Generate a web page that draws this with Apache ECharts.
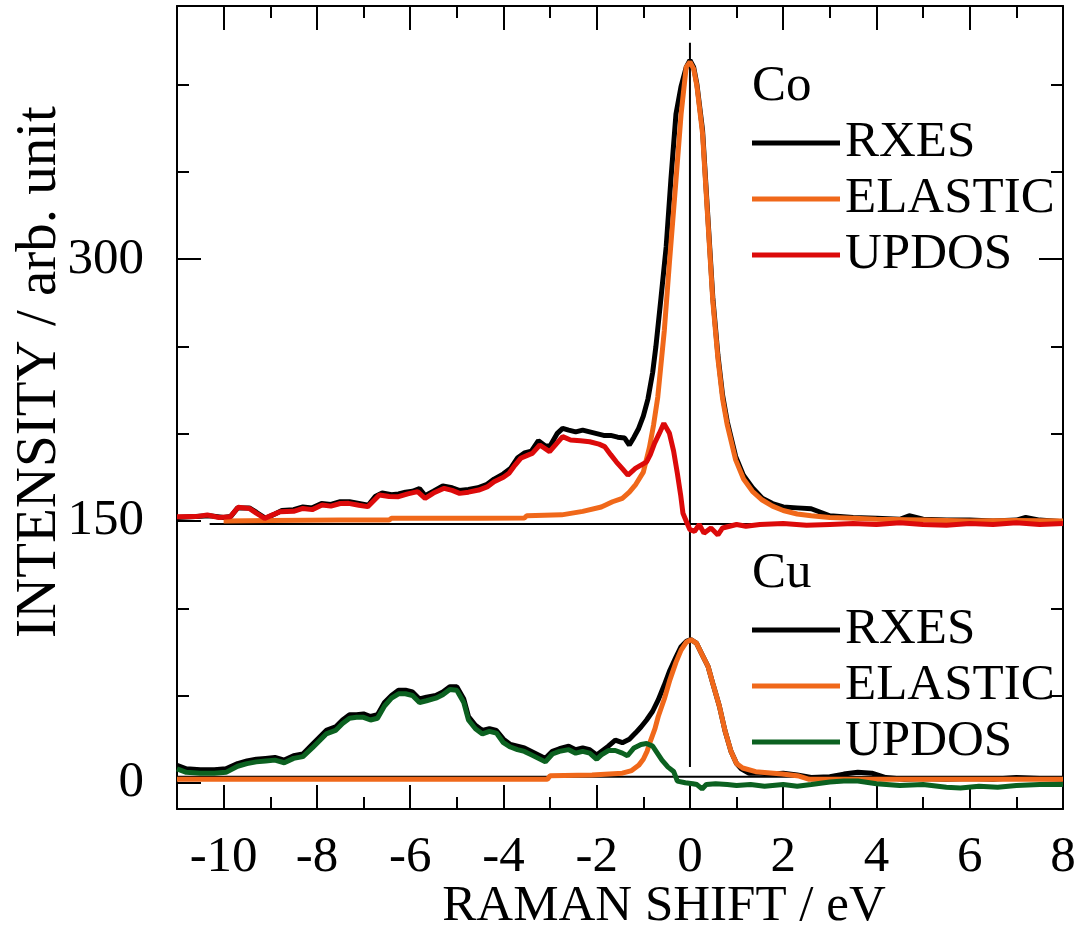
<!DOCTYPE html>
<html>
<head>
<meta charset="utf-8">
<script src="https://cdn.jsdelivr.net/npm/echarts@6/dist/echarts.min.js"></script>
<style>
html,body{margin:0;padding:0;background:#fff;}
#chart{width:1074px;height:928px;}
</style>
</head>
<body>
<div id="chart"></div>
<script>
// ---- tick values ----
var xMajorTicks = [-10, -8, -6, -4, -2, 0, 2, 4, 6, 8];
var xMinorTicks = [-9, -7, -5, -3, -1, 1, 3, 5, 7];
var yMajorTicks = [0, 150, 300];
var yMinorTicks = [50, 100, 200, 250, 350, 400];

// ---- Co spectra (Raman shift eV, intensity) ----
var coRxes = [[-11.0,152],[-10.6,152.5],[-10.3,153],[-10.0,152],[-9.85,152.5],[-9.7,157.5],[-9.45,157.5],[-9.3,155],[-9.1,151.5],[-8.9,154],[-8.75,156],[-8.5,156.5],[-8.3,158],[-8.1,157.5],[-7.9,160],[-7.7,159.5],[-7.5,161],[-7.3,161],[-7.1,160],[-6.9,159],[-6.75,164],[-6.6,166],[-6.4,165],[-6.25,165.5],[-6.1,166.5],[-5.95,167],[-5.8,168.5],[-5.68,164.5],[-5.5,167],[-5.3,170],[-5.1,169],[-4.95,167.5],[-4.75,168],[-4.55,169],[-4.35,171],[-4.2,174],[-4.0,177],[-3.85,180],[-3.7,186],[-3.55,189],[-3.4,190],[-3.25,196],[-3.1,193],[-3.0,193],[-2.85,200],[-2.73,203],[-2.6,202],[-2.45,201],[-2.3,202],[-2.15,201],[-2.0,200],[-1.85,199],[-1.7,199],[-1.55,198],[-1.4,197.5],[-1.3,193.5],[-1.2,198],[-1.1,203],[-1.0,210],[-0.9,220],[-0.8,235],[-0.73,250],[-0.62,278],[-0.51,307],[-0.41,345],[-0.3,383],[-0.19,399],[-0.08,410],[0.0,414],[0.08,410],[0.15,400],[0.27,374],[0.38,326],[0.49,278],[0.6,245],[0.7,222],[0.8,207],[0.98,187],[1.15,176],[1.34,169],[1.55,163],[1.77,160],[2.0,158],[2.3,157.5],[2.6,157],[2.8,155],[3.0,153],[3.5,152],[4.0,151.5],[4.5,151],[4.7,153],[5.0,151],[5.5,150.5],[6.0,150.5],[6.5,150],[7.0,150.5],[7.2,152],[7.5,150.5],[8.0,149.5]];
var coElastic = [[-10.0,150],[-9.0,150.3],[-7.5,150.5],[-6.45,150.5],[-6.4,151.5],[-4.5,151.5],[-3.55,151.7],[-3.5,153],[-2.75,153.5],[-2.3,155.5],[-1.9,158],[-1.66,161],[-1.45,163],[-1.3,166.5],[-1.16,171],[-1.0,178],[-0.87,192],[-0.78,205],[-0.69,221],[-0.55,259],[-0.44,298],[-0.3,345],[-0.19,383],[-0.08,410],[0.0,413],[0.08,409],[0.15,399],[0.27,372],[0.38,324],[0.49,276],[0.6,243],[0.7,220],[0.8,205],[0.98,185],[1.15,174],[1.34,167],[1.55,162],[1.77,158.5],[2.0,156],[2.3,154],[2.6,153],[3.0,152],[3.5,151.5],[4.0,151],[5.0,150.5],[6.0,150],[7.0,150.3],[8.0,150]];
var coUpdos = [[-11.0,152.4],[-10.6,152.5],[-10.35,153.4],[-10.1,152],[-9.86,152.4],[-9.69,157.8],[-9.45,157.2],[-9.3,154.5],[-9.12,151.5],[-8.95,153.5],[-8.79,155.3],[-8.5,155.5],[-8.3,157.2],[-8.1,156.5],[-7.89,159.1],[-7.7,158.5],[-7.5,160],[-7.32,160.1],[-7.1,159],[-6.91,158.2],[-6.75,162.5],[-6.66,164.9],[-6.45,164],[-6.25,163.9],[-6.05,165.5],[-5.84,166.8],[-5.68,163],[-5.5,166],[-5.27,168.7],[-5.1,167.5],[-4.94,165.8],[-4.75,166.5],[-4.53,167.7],[-4.35,169.5],[-4.2,172.5],[-4.0,175],[-3.88,177.3],[-3.75,182],[-3.63,185.9],[-3.45,188],[-3.38,188.7],[-3.22,193.5],[-3.01,189.7],[-2.87,194],[-2.73,198.3],[-2.56,196.4],[-2.35,196],[-2.15,195.4],[-1.95,194],[-1.83,192.6],[-1.7,188],[-1.58,183.9],[-1.45,180],[-1.33,176.3],[-1.17,180.1],[-0.93,183.9],[-0.85,188],[-0.76,194.5],[-0.66,200],[-0.56,205.9],[-0.44,200.2],[-0.35,190],[-0.27,177.3],[-0.2,165],[-0.15,154.4],[-0.05,148],[0.0,145],[0.1,144],[0.2,148],[0.3,143],[0.45,146],[0.6,142],[0.7,146],[0.85,147],[1.0,148],[1.2,147],[1.5,148],[2.0,148.5],[2.5,147.5],[3.0,148],[3.5,148.5],[4.0,148],[4.5,149],[5.0,148],[5.5,147.5],[6.0,148.5],[6.5,148],[7.0,149],[7.5,148],[8.0,148.5]];

// ---- Cu spectra ----
var cuRxes = [[-11.0,10],[-10.8,8],[-10.5,7.5],[-10.2,7.5],[-9.95,8],[-9.7,11],[-9.5,12.5],[-9.3,13.5],[-9.1,14],[-8.9,14.5],[-8.7,13],[-8.5,15.5],[-8.3,16.5],[-8.1,22],[-7.95,26],[-7.8,30],[-7.6,32],[-7.45,36],[-7.3,39],[-7.15,39],[-7.0,39.5],[-6.85,38],[-6.7,39],[-6.55,46],[-6.4,50],[-6.25,53],[-6.1,53],[-5.95,52],[-5.8,48],[-5.65,49],[-5.45,50],[-5.3,52],[-5.15,55],[-5.0,55],[-4.85,48],[-4.75,38],[-4.6,33],[-4.45,30],[-4.3,31],[-4.15,30],[-4.0,25],[-3.85,22],[-3.7,21],[-3.55,20],[-3.4,18],[-3.25,16],[-3.1,14],[-2.95,18],[-2.8,19.5],[-2.6,21],[-2.45,19],[-2.3,20],[-2.15,19],[-2.0,16],[-1.9,18],[-1.75,21],[-1.6,24.5],[-1.45,23],[-1.3,25],[-1.17,28.5],[-1.05,32],[-0.93,36],[-0.8,41],[-0.68,47.5],[-0.55,56],[-0.43,64.5],[-0.3,72],[-0.19,78],[-0.08,81],[0.02,82],[0.14,80],[0.25,74],[0.39,66.5],[0.5,56],[0.63,44],[0.75,30],[0.88,18],[1.0,11],[1.1,8],[1.27,5.5],[1.5,5.5],[1.8,5],[2.0,5.5],[2.3,4.5],[2.6,3],[3.0,3.5],[3.3,5],[3.6,6],[3.9,5.5],[4.2,3],[4.6,2],[5.0,2.5],[5.5,2],[6.0,2.5],[6.5,2],[7.0,3],[7.5,2.5],[8.0,2]];
var cuElastic = [[-11.0,2],[-9.0,2],[-7.0,2],[-5.0,2],[-3.06,2],[-3.0,4],[-2.1,4.5],[-1.45,5.5],[-1.25,7],[-1.1,10],[-1.0,13.5],[-0.92,18],[-0.84,24.5],[-0.75,31],[-0.68,38],[-0.55,48],[-0.43,59],[-0.3,69],[-0.19,76],[-0.08,80.5],[0.02,82],[0.14,80],[0.25,74],[0.39,66.5],[0.5,56],[0.63,44],[0.75,30],[0.88,18],[1.0,11],[1.13,8.5],[1.41,6.4],[1.98,5],[2.34,3.9],[2.56,2],[3.5,2],[5.0,2],[6.5,2],[8.0,2]];
var cuUpdos = [[-11.0,8],[-10.8,6],[-10.5,5.5],[-10.2,5.5],[-9.95,6],[-9.7,9.5],[-9.5,11],[-9.3,12],[-9.1,12.5],[-8.9,13],[-8.7,11.5],[-8.5,14],[-8.3,15],[-8.1,20],[-7.95,24],[-7.8,28],[-7.6,30],[-7.45,34],[-7.3,37],[-7.15,37.5],[-7.0,37.5],[-6.85,36],[-6.7,37],[-6.55,44],[-6.4,48.5],[-6.25,51],[-6.1,51],[-5.95,50],[-5.8,46],[-5.65,47],[-5.45,48.5],[-5.3,50.5],[-5.15,53.5],[-5.0,53],[-4.85,46],[-4.75,36],[-4.6,31],[-4.45,28],[-4.3,29.5],[-4.15,28.5],[-4.0,23],[-3.85,20.5],[-3.7,19],[-3.55,18],[-3.4,16],[-3.25,14],[-3.1,12],[-2.95,16.5],[-2.8,18],[-2.6,19],[-2.45,17],[-2.3,18],[-2.15,17],[-2.0,13.5],[-1.9,16],[-1.75,18.5],[-1.6,18.5],[-1.45,17],[-1.34,15.5],[-1.2,20],[-1.05,22],[-0.93,22.5],[-0.8,21],[-0.7,17],[-0.6,13],[-0.47,9],[-0.35,6.5],[-0.27,1],[-0.1,0],[0.06,-0.5],[0.15,-1],[0.26,-3.5],[0.35,-1],[0.55,-0.5],[0.8,-1],[1.0,-1.5],[1.3,-1],[1.6,-2],[2.0,-1],[2.3,-2],[2.6,-1],[3.0,0.5],[3.3,1],[3.6,1],[4.0,-0.5],[4.5,-1.5],[5.0,-1],[5.5,-2.5],[5.8,-3],[6.2,-2],[6.6,-2.5],[7.0,-1.5],[7.5,-1],[8.0,-1]];

// ---- reference lines ----
var coBaseline = [[-10.3,148.3],[8,148.3]];
var cuBaseline = [[-11,3.5],[8,3.5]];
var zeroShiftLine = [[0,9],[0,424]];

var FONT = 'Liberation Serif';
var BLACK = '#000000', ORANGE = '#f0681a', RED = '#dc0a0a', GREEN = '#0b6120';

function xAx(pos, major, showLabel){
  return {
    type:'value', position:pos, min:-11, max:8,
    axisLine:{show:major, onZero:false, lineStyle:{color:'#000', width:2}},
    axisTick:{show:true, inside:true, length: major?24:12, customValues: major?xMajorTicks:xMinorTicks, lineStyle:{color:'#000', width:2}},
    axisLabel:{show:showLabel, customValues:xMajorTicks, margin:23, color:'#000', fontFamily:FONT, fontSize:51},
    splitLine:{show:false},
    name: showLabel ? 'RAMAN SHIFT / eV' : '',
    nameLocation:'middle', nameGap:72, nameMoveOverlap:false,
    nameTextStyle:{color:'#000', fontFamily:FONT, fontSize:51, padding:[0,0,0,88]}
  };
}
function yAx(pos, major, showLabel){
  return {
    type:'value', position:pos, min:-15, max:445,
    axisLine:{show:major, onZero:false, lineStyle:{color:'#000', width:2}},
    axisTick:{show:true, inside:true, length: major?24:12, customValues: major?yMajorTicks:yMinorTicks, lineStyle:{color:'#000', width:2}},
    axisLabel:{show:showLabel, customValues:yMajorTicks, margin:33, color:'#000', fontFamily:FONT, fontSize:51, padding:[0,0,12,0]},
    splitLine:{show:false},
    name: showLabel ? 'INTENSITY / arb. unit' : '',
    nameLocation:'middle', nameGap:108, nameRotate:90, nameMoveOverlap:false,
    nameTextStyle:{color:'#000', fontFamily:FONT, fontSize:57, padding:[0,0,0,71]}
  };
}

function curve(name, data, color){
  return {name:name, type:'line', data:data, xAxisIndex:0, yAxisIndex:0, showSymbol:false, symbol:'none',
    lineStyle:{color:color, width:5}, itemStyle:{color:color}, z:3, silent:true};
}
function refLine(data){
  return {type:'line', data:data, xAxisIndex:0, yAxisIndex:0, showSymbol:false, symbol:'none',
    lineStyle:{color:'#000', width:2}, z:2, silent:true};
}

var legendCommon = {
  orient:'vertical', left:752, padding:0, itemGap:0, icon:'rect', itemWidth:88, itemHeight:5,
  selectedMode:false,
  textStyle:{color:'#000', fontFamily:FONT, fontSize:51, lineHeight:56},
  formatter:function(n){ return n.split(' ')[1]; }
};

var option = {
  animation:false,
  backgroundColor:'#ffffff',
  grid:{left:177, right:11, top:6, bottom:119, containLabel:false, outerBoundsMode:'none'},
  title:[
    {text:'Co', left:752, top:61, padding:0, textStyle:{color:'#000', fontFamily:FONT, fontSize:51, fontWeight:'normal'}},
    {text:'Cu', left:752, top:548, padding:0, textStyle:{color:'#000', fontFamily:FONT, fontSize:51, fontWeight:'normal'}}
  ],
  legend:[
    Object.assign({}, legendCommon, {top:115, data:['Co RXES','Co ELASTIC','Co UPDOS']}),
    Object.assign({}, legendCommon, {top:602, data:['Cu RXES','Cu ELASTIC','Cu UPDOS']})
  ],
  xAxis:[xAx('bottom', true, true), xAx('bottom', false, false), xAx('top', true, false), xAx('top', false, false)],
  yAxis:[yAx('left', true, true), yAx('left', false, false), yAx('right', true, false), yAx('right', false, false)],
  series:[
    refLine(coBaseline), refLine(cuBaseline), refLine(zeroShiftLine),
    curve('Co RXES', coRxes, BLACK),
    curve('Co ELASTIC', coElastic, ORANGE),
    curve('Co UPDOS', coUpdos, RED),
    curve('Cu RXES', cuRxes, BLACK),
    curve('Cu ELASTIC', cuElastic, ORANGE),
    curve('Cu UPDOS', cuUpdos, GREEN)
  ]
};
var chart = echarts.init(document.getElementById('chart'), null, {renderer:'canvas'});
chart.setOption(option);
</script>
</body>
</html>
